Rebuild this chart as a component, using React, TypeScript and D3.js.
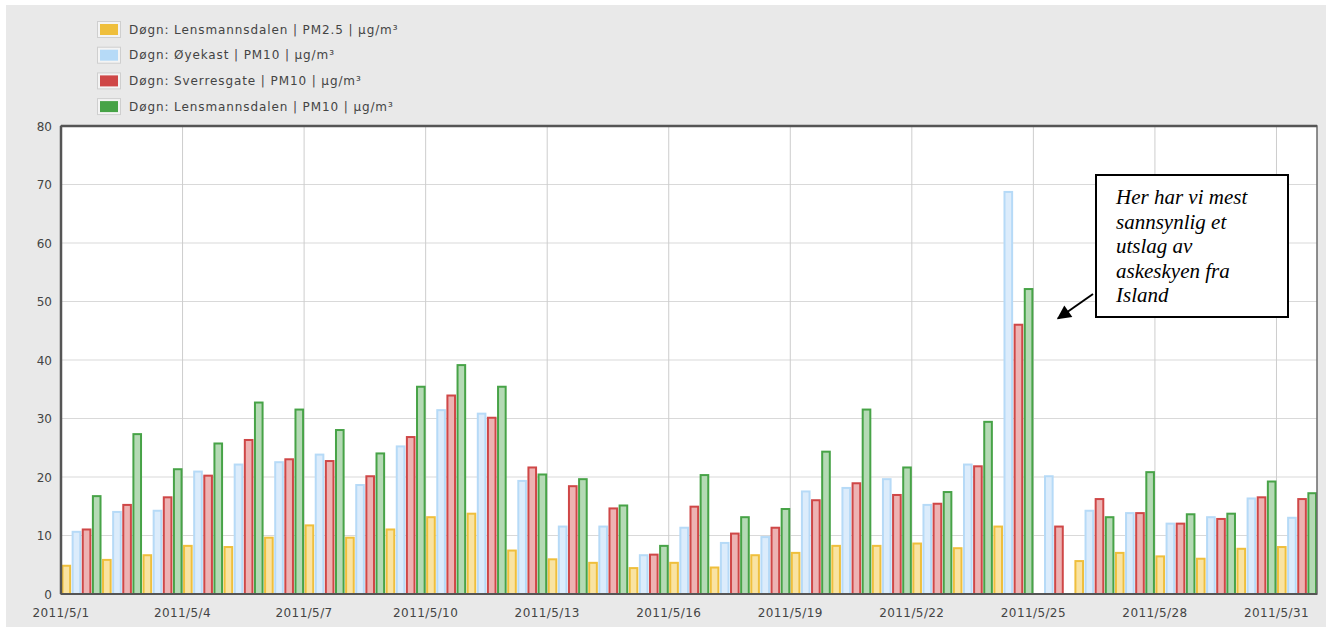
import React from "react";
import * as d3 from "d3";

const days: string[] = Array.from({ length: 31 }, (_, i) => `2011-05-${String(i + 1).padStart(2, "0")}`);

const seriesNames = [
  "Døgn: Lensmannsdalen | PM2.5 | μg/m³",
  "Døgn: Øyekast | PM10 | μg/m³",
  "Døgn: Sverresgate | PM10 | μg/m³",
  "Døgn: Lensmannsdalen | PM10 | μg/m³",
];

const lensPM25: (number | null)[] = [5.0, 6.0, 6.8, 8.4, 8.2, 9.8, 11.9, 9.8, 11.2, 13.3, 13.9, 7.6, 6.1, 5.5, 4.6, 5.5, 4.7, 6.8, 7.2, 8.4, 8.4, 8.8, 8.0, 11.7, null, 5.8, 7.2, 6.6, 6.2, 7.9, 8.2];
const oyekastPM10: (number | null)[] = [10.8, 14.2, 14.4, 21.1, 22.3, 22.7, 24.0, 18.8, 25.4, 31.6, 31.0, 19.5, 11.7, 11.7, 6.8, 11.5, 8.9, 9.9, 17.7, 18.3, 19.8, 15.4, 22.3, 68.9, 20.3, 14.4, 14.0, 12.2, 13.3, 16.5, 13.2];
const sverresgatePM10: (number | null)[] = [11.2, 15.4, 16.7, 20.4, 26.5, 23.2, 22.9, 20.3, 27.0, 34.1, 30.3, 21.8, 18.6, 14.8, 6.9, 15.1, 10.5, 11.5, 16.2, 19.1, 17.1, 15.6, 22.0, 46.2, 11.7, 16.4, 14.0, 12.2, 13.0, 16.7, 16.4];
const lensPM10: (number | null)[] = [16.9, 27.5, 21.5, 25.9, 32.9, 31.7, 28.2, 24.2, 35.6, 39.3, 35.6, 20.6, 19.8, 15.3, 8.4, 20.5, 13.3, 14.7, 24.5, 31.7, 21.8, 17.6, 29.6, 52.3, null, 13.3, 21.0, 13.8, 13.9, 19.4, 17.4];

const seriesValues = [lensPM25, oyekastPM10, sverresgatePM10, lensPM10];
const strokeColors = ["#efbf3c", "#b6daf7", "#cf4747", "#47a347"];
const fillColors = ["#f9e3a2", "#dcecfb", "#edb3b3", "#b5dab5"];

const yTicks = [0, 10, 20, 30, 40, 50, 60, 70, 80];
const annotationLines = ["Her har vi mest", "sannsynlig et", "utslag av", "askeskyen fra", "Island"];

const W = 1328;
const H = 628;
const M = { left: 61, right: 1317, top: 126, bottom: 594 };

export default function App() {
  const parse = d3.timeParse("%Y-%m-%d");
  const dates = days.map((d) => parse(d) as Date);
  const x = d3
    .scaleTime()
    .domain([dates[0], d3.timeDay.offset(dates[dates.length - 1], 1)])
    .range([M.left, M.right]);
  const y = d3.scaleLinear().domain([0, 80]).range([M.bottom, M.top]);
  const dayW = x(dates[1]) - x(dates[0]);
  const inner = d3.scaleBand<number>().domain([0, 1, 2, 3]).range([0, dayW]).padding(0);
  const bw = inner.bandwidth();
  const xTicks = dates.filter((_, i) => i % 3 === 0);
  const fmt = d3.timeFormat("%Y/%-m/%-d");

  const font = "'DejaVu Sans', Verdana, sans-serif";

  return (
    <svg width={W} height={H} style={{ position: "absolute", left: 0, top: 0, background: "#fff" }}>
      <rect x={6} y={5} width={1320} height={622} fill="#e9e9e9" />
      {/* legend */}
      {seriesNames.map((name, i) => (
        <g key={name} transform={`translate(97, ${21 + i * 25.7})`}>
          <rect x={0.5} y={0.5} width={23} height={16} fill="#f4f4f4" stroke="#cfcfcf" />
          <rect x={3} y={3} width={18} height={11} fill={strokeColors[i]} />
          <text x={32} y={12.5} fontFamily={font} fontSize={12} fill="#444" letterSpacing={0.9}>
            {name}
          </text>
        </g>
      ))}
      {/* plot area */}
      <rect x={M.left} y={M.top} width={M.right - M.left} height={M.bottom - M.top} fill="#fff" />
      {yTicks.map((t) => (
        <line key={"h" + t} x1={M.left} x2={M.right} y1={y(t)} y2={y(t)} stroke="#d9d9d9" strokeWidth={1} />
      ))}
      {xTicks.map((d) => (
        <line key={"v" + d.getTime()} x1={x(d)} x2={x(d)} y1={M.top} y2={M.bottom} stroke="#cdcdcd" strokeWidth={1} />
      ))}
      {/* bars */}
      {seriesValues.map((vals, si) =>
        vals.map((v, di) =>
          v == null ? null : (
            <rect
              key={`b${si}-${di}`}
              x={x(dates[di]) + (inner(si) as number) + 1.5}
              y={y(v) + 1}
              width={bw - 2.5}
              height={Math.max(0, y(0) - y(v) - 1)}
              fill={fillColors[si]}
              stroke={strokeColors[si]}
              strokeWidth={2}
            />
          )
        )
      )}
      {/* frame */}
      <rect x={M.left} y={M.top} width={M.right - M.left} height={M.bottom - M.top} fill="none" stroke="#6a6a6a" strokeWidth={1.5} />
      <line x1={M.left} x2={M.left} y1={M.top} y2={M.bottom} stroke="#555" strokeWidth={2.5} />
      <line x1={M.left} x2={M.right} y1={M.top} y2={M.top} stroke="#555" strokeWidth={2.5} />
      <line x1={M.left} x2={M.right} y1={M.bottom} y2={M.bottom} stroke="#555" strokeWidth={2} />
      {/* y labels */}
      {yTicks.map((t) => (
        <text key={"yl" + t} x={52} y={y(t) + 4.5} textAnchor="end" fontFamily={font} fontSize={12} fill="#444">
          {t}
        </text>
      ))}
      {/* x labels */}
      {xTicks.map((d) => (
        <text key={"xl" + d.getTime()} x={x(d)} y={617} textAnchor="middle" fontFamily={font} fontSize={12} fill="#444" letterSpacing={0.4}>
          {fmt(d)}
        </text>
      ))}
      {/* annotation */}
      <defs>
        <marker id="ah" viewBox="0 0 10 10" refX={9} refY={5} markerWidth={8} markerHeight={7} orient="auto">
          <path d="M0,0 L10,5 L0,10 z" fill="#000" />
        </marker>
      </defs>
      <line x1={1093} y1={294} x2={1058} y2={318.5} stroke="#000" strokeWidth={2} markerEnd="url(#ah)" />
      <rect x={1096} y={175} width={192} height={142} fill="#fff" stroke="#000" strokeWidth={2} />
      {annotationLines.map((l, i) => (
        <text key={l} x={1116} y={204 + i * 24.6} fontFamily="'Liberation Serif', serif" fontStyle="italic" fontSize={21} fill="#000">
          {l}
        </text>
      ))}
    </svg>
  );
}
